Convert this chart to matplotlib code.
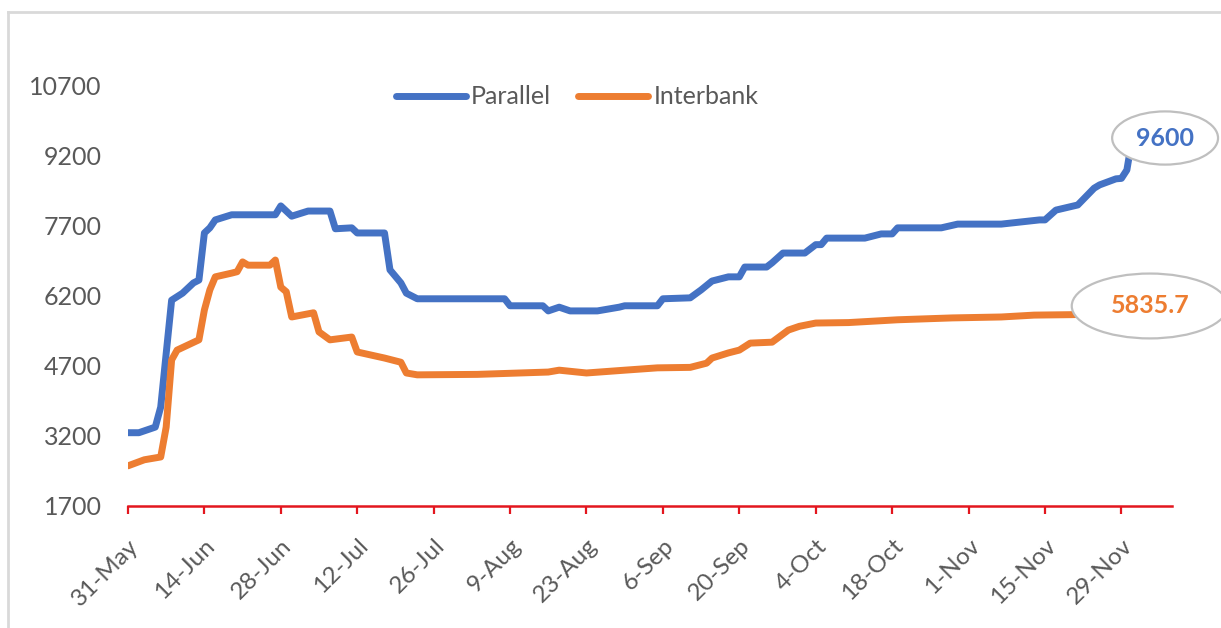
import matplotlib
matplotlib.use('Agg')
import matplotlib.pyplot as plt
import matplotlib.dates as mdates
from matplotlib.patches import Ellipse
from matplotlib.lines import Line2D
import pandas as pd

plt.rcParams['font.family'] = ['Lato', 'DejaVu Sans']

# exchange rates (2021)
par_dates = ['2021-05-31', '2021-06-02', '2021-06-05', '2021-06-06', '2021-06-08',
             '2021-06-10', '2021-06-12', '2021-06-13', '2021-06-14', '2021-06-15',
             '2021-06-16', '2021-06-19', '2021-06-27', '2021-06-28', '2021-06-30',
             '2021-07-03', '2021-07-07', '2021-07-08', '2021-07-11', '2021-07-12',
             '2021-07-17', '2021-07-18', '2021-07-20', '2021-07-21', '2021-07-23',
             '2021-08-08', '2021-08-09', '2021-08-15', '2021-08-16', '2021-08-18',
             '2021-08-20', '2021-08-25', '2021-08-29', '2021-08-30', '2021-09-05',
             '2021-09-06', '2021-09-11', '2021-09-13', '2021-09-15', '2021-09-18',
             '2021-09-20', '2021-09-21', '2021-09-25', '2021-09-26', '2021-09-28',
             '2021-10-02', '2021-10-04', '2021-10-05', '2021-10-06', '2021-10-13',
             '2021-10-16', '2021-10-18', '2021-10-19', '2021-10-27', '2021-10-30',
             '2021-11-07', '2021-11-14', '2021-11-15', '2021-11-17', '2021-11-21',
             '2021-11-24', '2021-11-25', '2021-11-28', '2021-11-29', '2021-11-30',
             '2021-12-01']
par_values = [3270, 3270, 3390, 3820, 6110,
              6260, 6480, 6540, 7550, 7660,
              7830, 7940, 7940, 8130, 7910,
              8020, 8020, 7640, 7660, 7550,
              7550, 6760, 6480, 6260, 6140,
              6140, 5990, 5990, 5880, 5960,
              5880, 5880, 5960, 5990, 5990,
              6140, 6160, 6330, 6520, 6610,
              6610, 6820, 6820, 6910, 7120,
              7120, 7300, 7300, 7440, 7440,
              7530, 7530, 7660, 7660, 7740,
              7740, 7830, 7830, 8040, 8150,
              8510, 8580, 8710, 8720, 8900,
              9600]

ib_dates = ['2021-05-31', '2021-06-03', '2021-06-06', '2021-06-07', '2021-06-08',
            '2021-06-09', '2021-06-11', '2021-06-13', '2021-06-14', '2021-06-15',
            '2021-06-16', '2021-06-19', '2021-06-20', '2021-06-21', '2021-06-22',
            '2021-06-26', '2021-06-27', '2021-06-28', '2021-06-29', '2021-06-30',
            '2021-07-04', '2021-07-05', '2021-07-07', '2021-07-11', '2021-07-12',
            '2021-07-17', '2021-07-20', '2021-07-21', '2021-07-23', '2021-08-03',
            '2021-08-16', '2021-08-18', '2021-08-23', '2021-08-30', '2021-09-05',
            '2021-09-11', '2021-09-14', '2021-09-15', '2021-09-18', '2021-09-20',
            '2021-09-22', '2021-09-26', '2021-09-29', '2021-10-01', '2021-10-04',
            '2021-10-10', '2021-10-19', '2021-10-29', '2021-11-07', '2021-11-13',
            '2021-11-20', '2021-12-01']
ib_values = [2560, 2690, 2750, 3390, 4830,
             5040, 5150, 5260, 5900, 6330,
             6610, 6690, 6720, 6930, 6860,
             6860, 6970, 6390, 6290, 5750,
             5840, 5430, 5260, 5320, 5000,
             4870, 4780, 4550, 4510, 4520,
             4570, 4610, 4550, 4610, 4660,
             4670, 4760, 4870, 4980, 5040,
             5190, 5210, 5470, 5550, 5620,
             5630, 5690, 5730, 5750, 5790,
             5800, 5835.7]

tick_labels = ['31-May', '14-Jun', '28-Jun', '12-Jul', '26-Jul', '9-Aug', '23-Aug',
               '6-Sep', '20-Sep', '4-Oct', '18-Oct', '1-Nov', '15-Nov', '29-Nov']
y_ticks = [1700, 3200, 4700, 6200, 7700, 9200, 10700]

blue = '#4472C4'
orange = '#ED7D31'
grey = '#595959'
red = '#E3161E'

par_x = pd.to_datetime(par_dates)
ib_x = pd.to_datetime(ib_dates)
tick_x = pd.date_range('2021-05-31', periods=len(tick_labels), freq='14D')

fig = plt.figure(figsize=(12.21, 6.28), dpi=100)
ax = fig.add_axes([0.1048, 0.1943, 0.855, 0.6688])

ax.plot(par_x, par_values, color=blue, lw=5, label='Parallel', solid_capstyle='round')
ax.plot(ib_x, ib_values, color=orange, lw=5, label='Interbank', solid_capstyle='round')

ax.set_xlim(pd.Timestamp('2021-05-31'), pd.Timestamp('2021-12-08 06:00'))
ax.set_ylim(1700, 10700)
ax.set_yticks(y_ticks)
ax.set_yticklabels([str(v) for v in y_ticks])
ax.set_xticks(tick_x)
ax.set_xticklabels(tick_labels, rotation=45, ha='right', rotation_mode='anchor')

for s in ['top', 'right', 'left']:
    ax.spines[s].set_visible(False)
ax.spines['bottom'].set_color(red)
ax.spines['bottom'].set_linewidth(1.8)
ax.tick_params(axis='y', length=0, pad=19, labelsize=18, labelcolor=grey)
ax.tick_params(axis='x', direction='out', length=6, width=1.6, color=red,
               pad=15, labelsize=17.5, labelcolor=grey)

# callout labels for the last values
last_par = par_x[-1]
last_ib = ib_x[-1]
e1 = Ellipse((mdates.date2num(last_par) + 6.0, par_values[-1] - 15), 19.4, 1140,
             facecolor='white', edgecolor='#BFBFBF', lw=1.6, zorder=5, clip_on=False)
ax.add_patch(e1)
ax.text(mdates.date2num(last_par) + 6.0, par_values[-1] - 15, '9600', color=blue,
        fontsize=18, fontweight='bold', ha='center', va='center', zorder=6)
e2 = Ellipse((mdates.date2num(last_ib) + 3.2, ib_values[-1] + 150), 28.6, 1390,
             facecolor='white', edgecolor='#BFBFBF', lw=1.6, zorder=5, clip_on=False)
ax.add_patch(e2)
ax.text(mdates.date2num(last_ib) + 3.2, ib_values[-1] + 150, '5835.7', color=orange,
        fontsize=18, fontweight='bold', ha='center', va='center', zorder=6)

leg = ax.legend(loc='center', bbox_to_anchor=(577 / 1221, 1 - 97 / 628),
                bbox_transform=fig.transFigure, ncol=2, frameon=False,
                fontsize=18, handlelength=2.8, handletextpad=0.2, columnspacing=1.1)
for t in leg.get_texts():
    t.set_color(grey)

# chart border
fig.add_artist(Line2D([8 / 1221, 8 / 1221], [0, 1 - 12 / 628], color='#D9D9D9', lw=2))
fig.add_artist(Line2D([8 / 1221, 1], [1 - 12 / 628, 1 - 12 / 628], color='#D9D9D9', lw=2))

fig.savefig('out.png', dpi=100)
